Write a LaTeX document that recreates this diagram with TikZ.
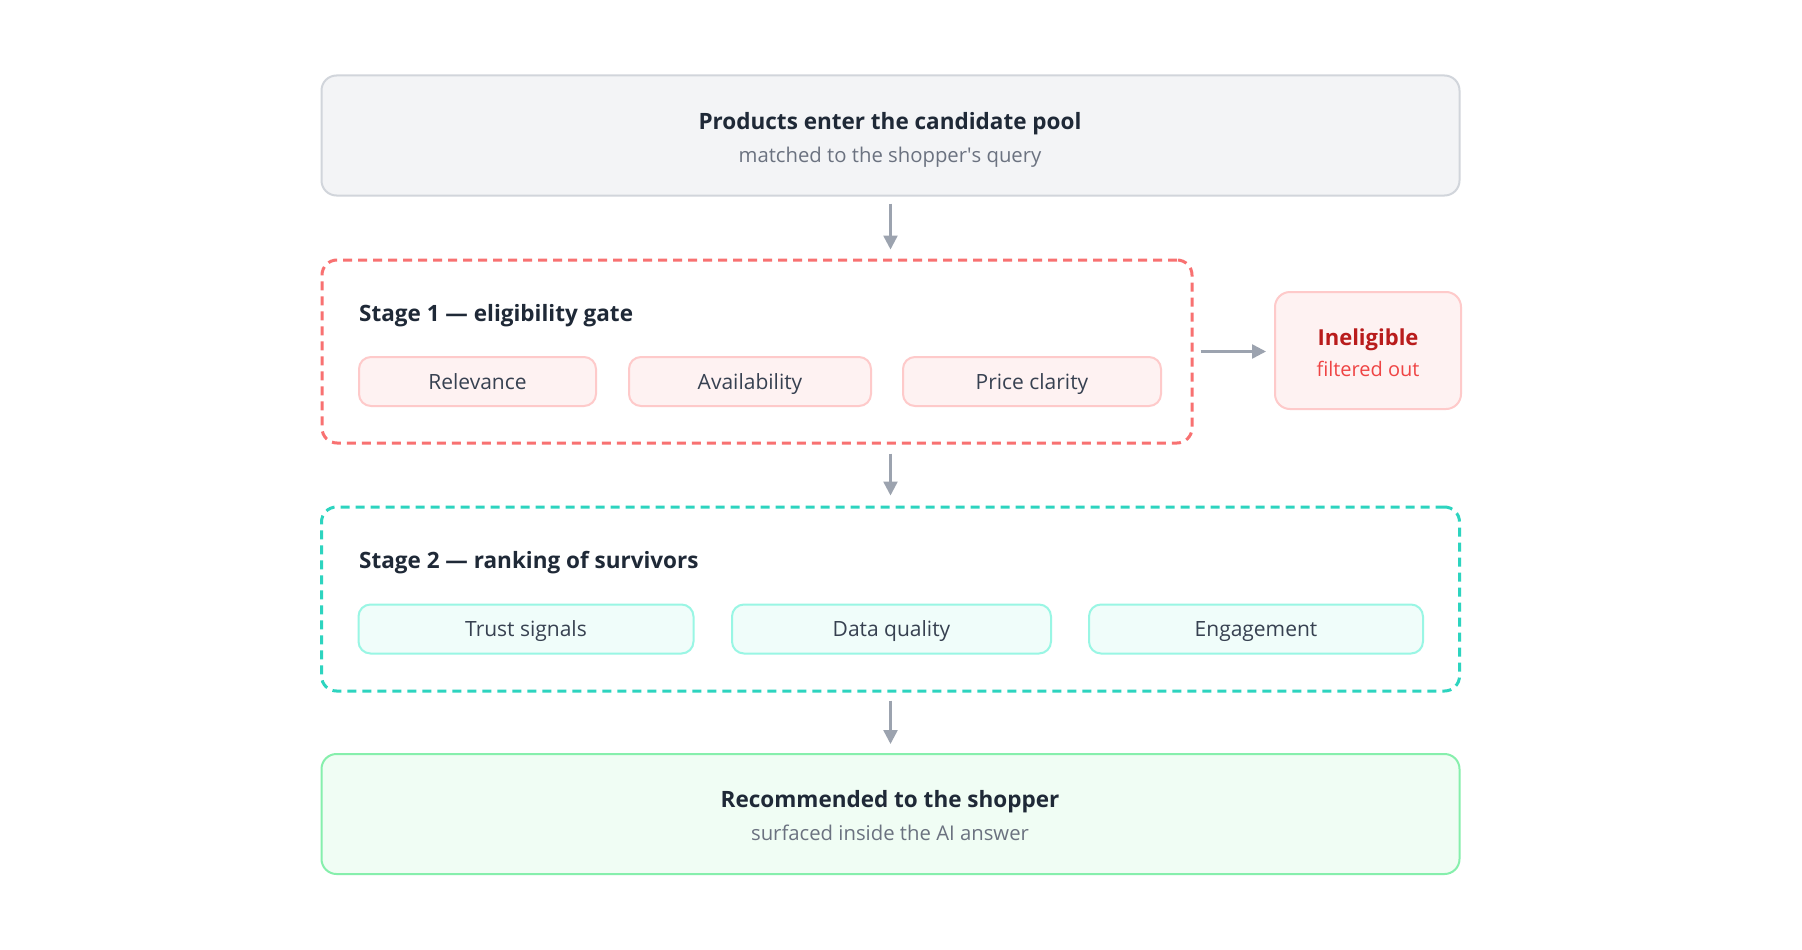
\documentclass[tikz,border=0pt]{standalone}
\usepackage{fontspec}
\setmainfont{Open Sans}
\usetikzlibrary{arrows.meta}
\definecolor{ink}{HTML}{1F2937}
\definecolor{muted}{HTML}{6B7280}
\definecolor{chipink}{HTML}{374151}
\definecolor{arrowc}{HTML}{9CA3AF}
\definecolor{topfill}{HTML}{F3F4F6}
\definecolor{topline}{HTML}{D1D5DB}
\definecolor{redd}{HTML}{F87171}
\definecolor{redfill}{HTML}{FEF2F2}
\definecolor{redline}{HTML}{FECACA}
\definecolor{reddark}{HTML}{B91C1C}
\definecolor{redmid}{HTML}{EF4444}
\definecolor{teald}{HTML}{2DD4BF}
\definecolor{tealfill}{HTML}{F0FDFA}
\definecolor{tealline}{HTML}{99F6E4}
\definecolor{grnfill}{HTML}{F0FDF4}
\definecolor{grnline}{HTML}{86EFAC}
\tikzset{
  x=1pt, y=-1pt,
  panel/.style={draw, line width=2pt, rounded corners=15pt, inner sep=0pt},
  stagebox/.style={draw, line width=3pt, dash pattern=on 9pt off 6pt, rounded corners=15pt, inner sep=0pt},
  chip/.style={draw, line width=2pt, rounded corners=12pt, inner sep=0pt, minimum height=49pt,
    text height=16pt, text depth=1pt, font=\fontsize{21}{24}\selectfont, text=chipink},
  redchip/.style={chip, fill=redfill, draw=redline},
  tealchip/.style={chip, fill=tealfill, draw=tealline},
  ttl/.style={anchor=base, font=\fontsize{22.5}{26}\selectfont\bfseries, text=ink, inner sep=0pt},
  sub/.style={anchor=base, font=\fontsize{20.3}{24}\selectfont, text=muted, inner sep=0pt},
  stt/.style={anchor=base west, font=\fontsize{22.5}{26}\selectfont\bfseries, text=ink, inner sep=0pt},
  arr/.style={draw=arrowc, line width=2.5pt, -{Stealth[length=14pt,width=14pt,inset=0pt]}},
}
\begin{document}
\begin{tikzpicture}
\fill[white] (0,0) rectangle (1802,950);
\useasboundingbox (0,0) rectangle (1802,950);

% top box
\node[panel, fill=topfill, draw=topline, minimum width=1138pt, minimum height=120pt] (top) at (890.5,135.5) {};
\node[ttl] (toptitle) at (890,129) {Products enter the candidate pool};
\node[sub] (topsub) at (890,162) {matched to the shopper\textquotesingle s query};

% stage 1
\node[stagebox, draw=redd, minimum width=870pt, minimum height=183pt] (s1) at (757,351.5) {};
\node[stt] (s1title) at (359,321) {Stage 1 — eligibility gate};
\node[redchip, minimum width=237pt] (rel) at (477.5,381.5) {Relevance};
\node[redchip, minimum width=242pt] (avail) at (750,381.5) {Availability};
\node[redchip, minimum width=258pt] (price) at (1032,381.5) {Price clarity};

% ineligible
\node[panel, fill=redfill, draw=redline, minimum width=186pt, minimum height=117pt] (inel) at (1368,350.5) {};
\node[anchor=base, font=\fontsize{22}{26}\selectfont\bfseries, text=reddark, inner sep=0pt] (ineltitle) at (1368,345) {Ineligible};
\node[anchor=base, font=\fontsize{20}{24}\selectfont, text=redmid, inner sep=0pt] (inelsub) at (1368,376) {filtered out};

% stage 2
\node[stagebox, draw=teald, minimum width=1138pt, minimum height=184pt] (s2) at (890.5,599) {};
\node[stt] (s2title) at (359,568) {Stage 2 — ranking of survivors};
\node[tealchip, minimum width=335pt] (trust) at (526,629) {Trust signals};
\node[tealchip, minimum width=319pt] (dq) at (891.5,629) {Data quality};
\node[tealchip, minimum width=334pt] (eng) at (1256,629) {Engagement};

% bottom box
\node[panel, fill=grnfill, draw=grnline, minimum width=1138pt, minimum height=120pt] (bot) at (890.5,814) {};
\node[ttl] (bottitle) at (890,807) {Recommended to the shopper};
\node[sub] (botsub) at (890,840) {surfaced inside the AI answer};

% arrows
\draw[arr, shorten <=7pt, shorten >=9pt] (top.south) -- (top.south |- s1.north);
\draw[arr, shorten <=9pt, shorten >=10pt] (s1.south -| top.south) -- (s2.north);
\draw[arr, shorten <=8pt, shorten >=9pt] (s2.south) -- (bot.north);
\draw[arr, shorten <=7pt, shorten >=8pt] (s1.east) -- (s1.east -| inel.west);
\end{tikzpicture}
\end{document}
